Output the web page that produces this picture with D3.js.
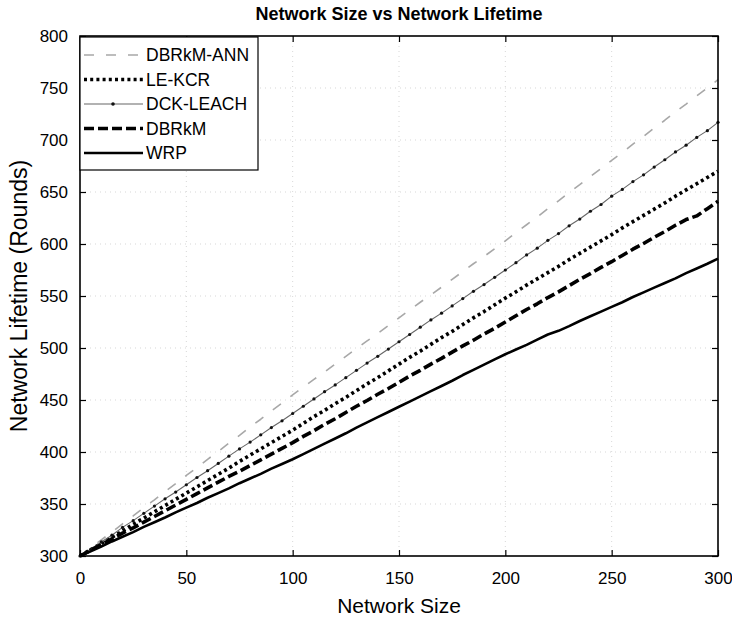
<!DOCTYPE html>
<html>
<head>
<meta charset="utf-8">
<script src="https://cdn.jsdelivr.net/npm/d3@7"></script>
<style>
  html, body { margin: 0; padding: 0; background: #fff; }
  svg { display: block; font-family: "Liberation Sans", Arial, sans-serif; }
</style>
</head>
<body>
<svg id="chart" width="732" height="619"></svg>
<script>
// Network size (x) sampled every 5 nodes
const networkSize = d3.range(0, 301, 5);

// Network lifetime in rounds for each protocol
const dbrkmAnn = [300, 307.8, 315.5, 323, 331, 338.5, 346.5, 354, 362, 369.5, 377.5, 385, 393, 400.5, 408.5, 416, 424, 431.5, 439.5, 447, 455,
  462.5, 469.8, 477, 484.5, 492, 499.5, 506.8, 514, 521.5, 529, 536.5, 544, 551, 558.5, 566, 573.5, 581, 588, 595.5, 603,
  611, 618.5, 626, 634, 641.5, 649.5, 657, 665, 672.5, 680.5, 688, 696, 703.5, 711.5, 719, 727, 734.5, 742.5, 750, 758];
const leKcr = [300, 306, 312, 318, 324, 330.5, 336.5, 342.5, 348.5, 354.5, 360.5, 366.5, 372.5, 378.5, 384.5, 391, 397, 403, 409, 415, 421,
  427.5, 434, 440, 446.5, 452.5, 459, 465.5, 471.5, 478, 484.5, 491, 497, 503.5, 510, 516, 522.5, 529, 535, 541.5, 548,
  554, 560.5, 566.5, 572.5, 578.5, 585, 591, 597, 603, 609, 615.5, 621.5, 627.5, 633.5, 639.5, 646, 652, 658, 664, 670];
const dckLeach = [300, 306.5, 313.5, 320, 327.5, 334, 341, 348, 355, 361.5, 368.5, 375.5, 382, 389, 396, 403, 409.5, 416.5, 423.5, 430, 437,
  444, 451, 458, 464.5, 471.5, 478.5, 485.5, 492, 499, 506, 513, 520, 527, 533.5, 540.5, 547.5, 554.5, 561, 568, 575,
  582, 589.5, 596, 603.5, 610, 617.5, 624, 631.5, 638, 646, 652.5, 660, 666.5, 674, 681, 688.5, 695, 702.5, 709, 717];
const dbrkm = [300, 305.5, 311, 316.5, 322, 327, 332.5, 338, 343.5, 349, 354.5, 360, 365.5, 371, 376.5, 381.5, 387, 392.5, 398, 403.5, 409,
  415, 420.5, 426.5, 432, 438, 444, 449.5, 455.5, 461, 467, 473, 478.5, 484.5, 490, 496, 502, 507.5, 513.5, 519, 525,
  531, 537, 542.5, 548.5, 554, 560, 566, 571.5, 577.5, 583, 589, 595, 600.5, 606.5, 612, 618, 623.5, 627, 634, 641];
const wrp = [300, 304.5, 309, 314, 318.5, 323, 328, 332.5, 337, 342, 346.5, 351, 356, 360.5, 365, 370, 374.5, 379, 384, 388.5, 393,
  398, 403, 408, 413, 418, 423.5, 428.5, 433.5, 438.5, 443.5, 448.5, 453.5, 458.5, 463.5, 468.5, 474, 479, 484, 489, 494,
  498.5, 503, 508, 513, 516.5, 521, 526, 530.5, 535, 539.5, 544, 549, 553.5, 558, 562.5, 567, 572, 576.5, 581, 586];

const xTicks = [0, 50, 100, 150, 200, 250, 300];
const yTicks = [300, 350, 400, 450, 500, 550, 600, 650, 700, 750, 800];

const seriesNames = ["DBRkM-ANN", "LE-KCR", "DCK-LEACH", "DBRkM", "WRP"];
const seriesValues = [dbrkmAnn, leKcr, dckLeach, dbrkm, wrp];

// Line styles per protocol
const styles = {
  "DBRkM-ANN": { stroke: "#a8a8a8", width: 1.6, dash: "10,12", dots: false },
  "LE-KCR":    { stroke: "#000", width: 3.6, dash: "3,3.2", dots: false },
  "DCK-LEACH": { stroke: "#666", width: 1.1, dash: null, dots: true },
  "DBRkM":     { stroke: "#000", width: 3.6, dash: "10,4", dots: false },
  "WRP":       { stroke: "#000", width: 2.6, dash: null, dots: false }
};

const svg = d3.select("#chart");
const m = { left: 80, right: 718, top: 36, bottom: 556 };

const x = d3.scaleLinear().domain([0, 300]).range([m.left, m.right]);
const y = d3.scaleLinear().domain([300, 800]).range([m.bottom, m.top]);

// Faint dotted grid
const grid = svg.append("g").attr("stroke", "#aaa").attr("stroke-width", 1)
  .attr("stroke-dasharray", "1,4").attr("opacity", 0.45);
grid.selectAll(".gx").data(xTicks.slice(1, -1)).join("line")
  .attr("x1", d => x(d)).attr("x2", d => x(d)).attr("y1", m.top).attr("y2", m.bottom);
grid.selectAll(".gy").data(yTicks.slice(1, -1)).join("line")
  .attr("y1", d => y(d)).attr("y2", d => y(d)).attr("x1", m.left).attr("x2", m.right);

// Series lines
const line = d3.line().x((d, i) => x(networkSize[i])).y(d => y(d));
const lines = svg.append("g");
seriesNames.forEach((name, k) => {
  const st = styles[name];
  lines.append("path")
    .datum(seriesValues[k])
    .attr("d", line)
    .attr("fill", "none")
    .attr("stroke", st.stroke)
    .attr("stroke-width", st.width)
    .attr("stroke-dasharray", st.dash)
    .attr("stroke-linejoin", "round");
  if (st.dots) {
    lines.append("g").selectAll("circle").data(seriesValues[k]).join("circle")
      .attr("cx", (d, i) => x(networkSize[i])).attr("cy", d => y(d))
      .attr("r", 1.6).attr("fill", "#111");
  }
});

// Axes with inward ticks on all four sides
const tickLen = 6;
const axes = svg.append("g");
axes.append("g").attr("transform", `translate(0,${m.bottom})`)
  .call(d3.axisBottom(x).tickValues(xTicks).tickSize(-tickLen).tickPadding(tickLen + 10))
  .call(g => g.select(".domain").remove());
axes.append("g").attr("transform", `translate(0,${m.top})`)
  .call(d3.axisTop(x).tickValues(xTicks).tickSize(-tickLen).tickFormat(""))
  .call(g => g.select(".domain").remove());
axes.append("g").attr("transform", `translate(${m.left},0)`)
  .call(d3.axisLeft(y).tickValues(yTicks).tickSize(-tickLen).tickPadding(tickLen + 6))
  .call(g => g.select(".domain").remove());
axes.append("g").attr("transform", `translate(${m.right},0)`)
  .call(d3.axisRight(y).tickValues(yTicks).tickSize(-tickLen).tickFormat(""))
  .call(g => g.select(".domain").remove());
axes.selectAll(".tick line").attr("stroke", "#000").attr("stroke-width", 1.2);
axes.selectAll(".tick text").attr("font-size", 17).attr("fill", "#000")
  .attr("font-family", "'Liberation Sans', Arial, sans-serif");

// Box
svg.append("rect").attr("x", m.left).attr("y", m.top)
  .attr("width", m.right - m.left).attr("height", m.bottom - m.top)
  .attr("fill", "none").attr("stroke", "#000").attr("stroke-width", 1.6);

// Legend
const lg = svg.append("g");
lg.append("rect").attr("x", 80).attr("y", 37).attr("width", 178).attr("height", 133)
  .attr("fill", "#fff").attr("stroke", "#000").attr("stroke-width", 1.2);
seriesNames.forEach((name, k) => {
  const st = styles[name];
  const ly = 55 + k * 24.5;
  lg.append("line").attr("x1", 84).attr("x2", 143).attr("y1", ly).attr("y2", ly)
    .attr("stroke", st.stroke).attr("stroke-width", st.width).attr("stroke-dasharray", st.dash);
  if (st.dots) {
    lg.append("circle").attr("cx", 113).attr("cy", ly).attr("r", 1.8).attr("fill", "#111");
  }
  lg.append("text").attr("x", 146).attr("y", ly).attr("dy", "0.36em")
    .attr("font-size", 17.5).attr("fill", "#000").text(name);
});

// Titles
svg.append("text").attr("x", (m.left + m.right) / 2).attr("y", 20)
  .attr("text-anchor", "middle").attr("font-size", 18).attr("font-weight", "bold")
  .text("Network Size vs Network Lifetime");
svg.append("text").attr("x", (m.left + m.right) / 2).attr("y", 613)
  .attr("text-anchor", "middle").attr("font-size", 21)
  .text("Network Size");
svg.append("text")
  .attr("transform", `translate(27,${(m.top + m.bottom) / 2}) rotate(-90)`)
  .attr("text-anchor", "middle").attr("font-size", 23)
  .text("Network Lifetime (Rounds)");
</script>
</body>
</html>
